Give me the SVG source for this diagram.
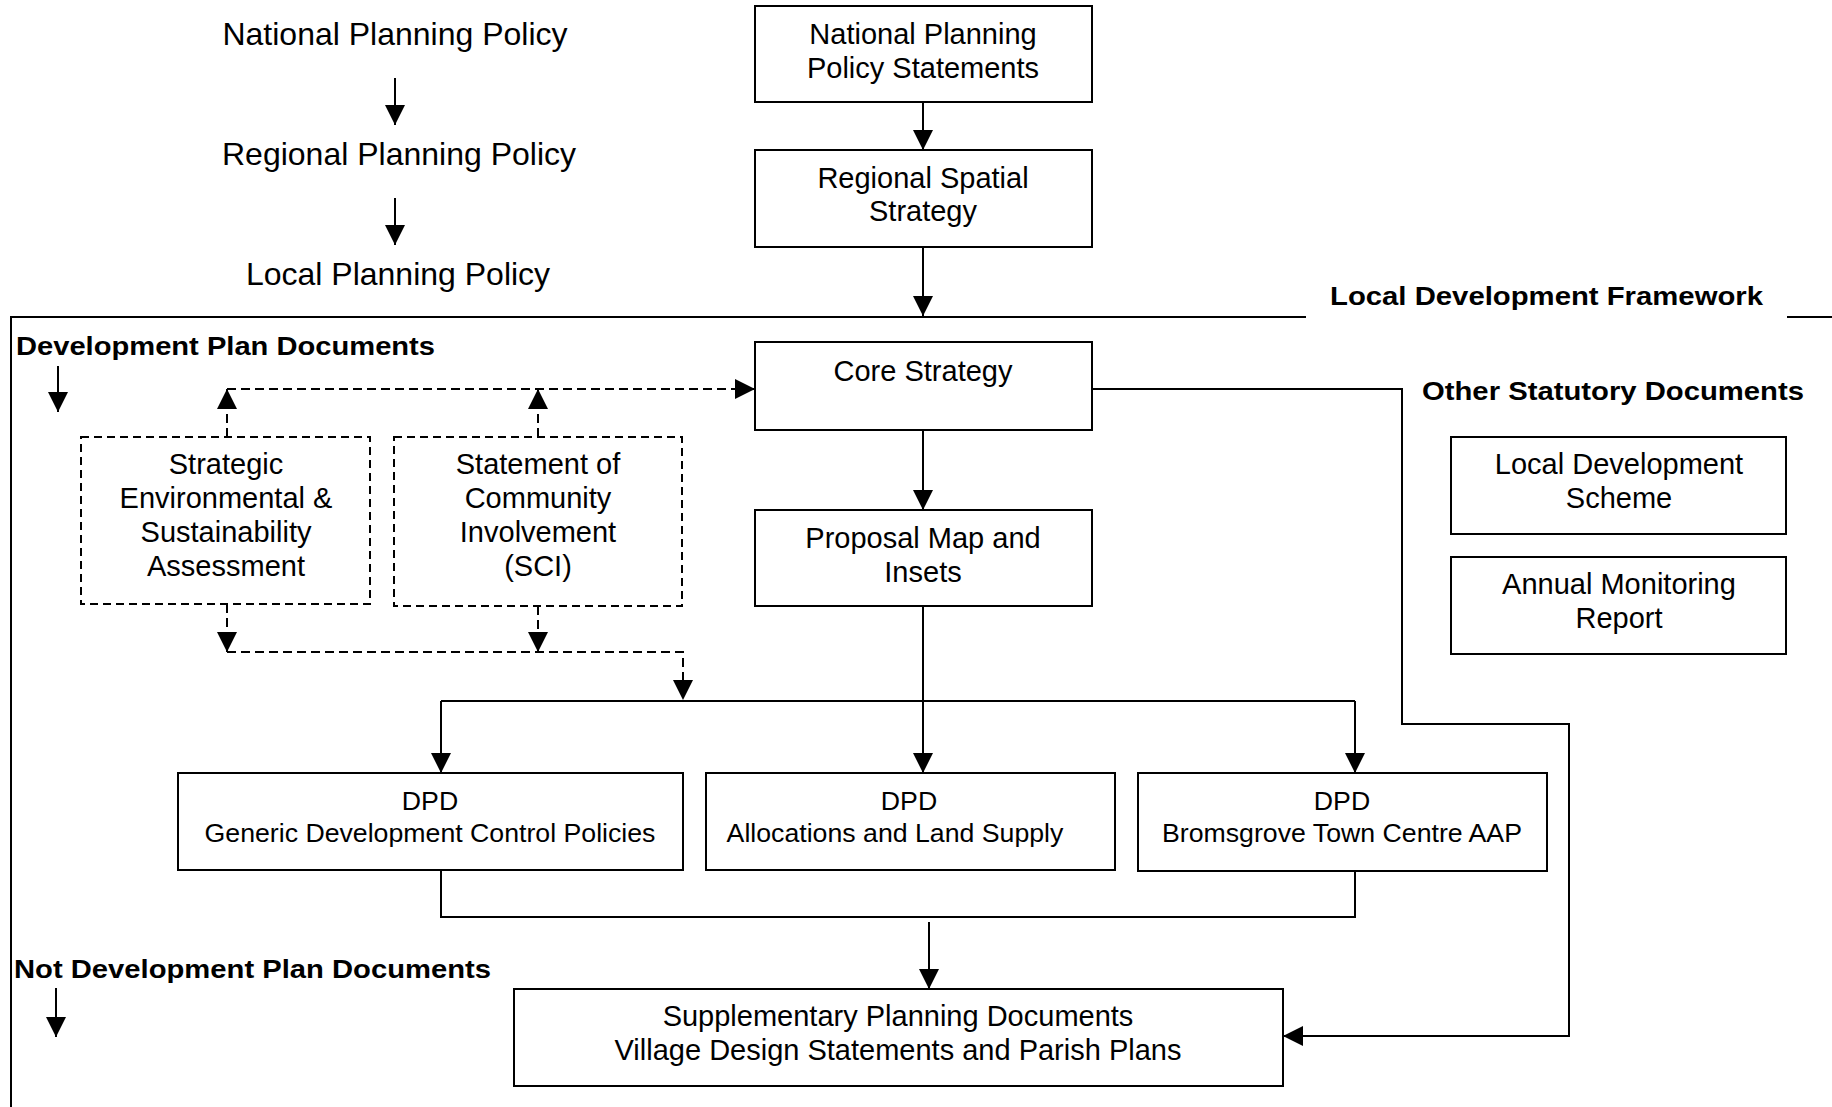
<svg xmlns="http://www.w3.org/2000/svg" width="1832" height="1107" viewBox="0 0 1832 1107">
<style>
  text { font-family: "Liberation Sans", Arial, sans-serif; fill: #000; }
  .lbl { font-size: 32px; text-anchor: middle; }
  .bx { font-size: 29px; text-anchor: middle; }
  .dpd { font-size: 26.7px; text-anchor: middle; }
  .hd { font-size: 26px; font-weight: bold; }
  .box { fill: #fff; stroke: #000; stroke-width: 2; }
  .dbox { fill: #fff; stroke: #000; stroke-width: 2; stroke-dasharray: 8 5; }
  .ln { fill: none; stroke: #000; stroke-width: 2; }
  .dl { fill: none; stroke: #000; stroke-width: 2; stroke-dasharray: 9 5; }
</style>
<defs>
  <marker id="ah" markerUnits="userSpaceOnUse" markerWidth="20" markerHeight="20" refX="20" refY="10" orient="auto" viewBox="0 0 20 20">
    <path d="M0,0 L20,10 L0,20 z" fill="#000" stroke="none"/>
  </marker>
</defs>
<rect width="1832" height="1107" fill="#fff"/>

<g id="framework">
  <line class="ln" x1="11" y1="317" x2="1306" y2="317"/>
  <line class="ln" x1="1787" y1="317" x2="1832" y2="317"/>
  <line class="ln" x1="11" y1="316" x2="11" y2="1107"/>
  <text class="hd" x="1330" y="305" textLength="433" lengthAdjust="spacingAndGlyphs">Local Development Framework</text>
</g>

<g id="policy-levels">
  <text class="lbl" x="395" y="45">National Planning Policy</text>
  <text class="lbl" x="399" y="165">Regional Planning Policy</text>
  <text class="lbl" x="398" y="285">Local Planning Policy</text>
</g>

<g id="headings">
  <text class="hd" x="16" y="355" textLength="419" lengthAdjust="spacingAndGlyphs">Development Plan Documents</text>
  <text class="hd" x="14" y="978" textLength="477" lengthAdjust="spacingAndGlyphs">Not Development Plan Documents</text>
  <text class="hd" x="1422" y="400" textLength="382" lengthAdjust="spacingAndGlyphs">Other Statutory Documents</text>
</g>

<g id="connectors">
  <line class="ln" x1="395" y1="78" x2="395" y2="125" marker-end="url(#ah)"/>
  <line class="ln" x1="395" y1="198" x2="395" y2="245" marker-end="url(#ah)"/>
  <line class="ln" x1="58" y1="366" x2="58" y2="412" marker-end="url(#ah)"/>
  <line class="ln" x1="56" y1="988" x2="56" y2="1037" marker-end="url(#ah)"/>

  <line class="ln" x1="923" y1="102" x2="923" y2="150" marker-end="url(#ah)"/>
  <line class="ln" x1="923" y1="247" x2="923" y2="316" marker-end="url(#ah)"/>
  <line class="ln" x1="923" y1="430" x2="923" y2="510" marker-end="url(#ah)"/>
  <line class="ln" x1="923" y1="606" x2="923" y2="773" marker-end="url(#ah)"/>
  <line class="ln" x1="441" y1="701" x2="1355" y2="701"/>
  <line class="ln" x1="441" y1="701" x2="441" y2="773" marker-end="url(#ah)"/>
  <line class="ln" x1="1355" y1="701" x2="1355" y2="773" marker-end="url(#ah)"/>

  <polyline class="ln" points="441,870 441,917 1355,917 1355,871"/>
  <line class="ln" x1="929" y1="922" x2="929" y2="989" marker-end="url(#ah)"/>

  <polyline class="ln" points="1091,389 1402,389 1402,724 1569,724 1569,1036 1283,1036" marker-end="url(#ah)"/>

  <line class="dl" x1="227" y1="437" x2="227" y2="389" marker-end="url(#ah)"/>
  <line class="dl" x1="538" y1="437" x2="538" y2="389" marker-end="url(#ah)"/>
  <line class="dl" x1="227" y1="389" x2="755" y2="389" marker-end="url(#ah)"/>

  <line class="dl" x1="227" y1="604" x2="227" y2="652" marker-end="url(#ah)"/>
  <line class="dl" x1="538" y1="606" x2="538" y2="652" marker-end="url(#ah)"/>
  <polyline class="dl" points="227,652 683,652 683,700" marker-end="url(#ah)"/>
</g>

<g id="npps">
  <rect class="box" x="755" y="6" width="337" height="96"/>
  <text class="bx" x="923" y="44">National Planning</text>
  <text class="bx" x="923" y="78">Policy Statements</text>
</g>
<g id="rss">
  <rect class="box" x="755" y="150" width="337" height="97"/>
  <text class="bx" x="923" y="188">Regional Spatial</text>
  <text class="bx" x="923" y="221">Strategy</text>
</g>
<g id="core-strategy">
  <rect class="box" x="755" y="342" width="337" height="88"/>
  <text class="bx" x="923" y="381">Core Strategy</text>
</g>
<g id="proposal-map">
  <rect class="box" x="755" y="510" width="337" height="96"/>
  <text class="bx" x="923" y="548">Proposal Map and</text>
  <text class="bx" x="923" y="582">Insets</text>
</g>
<g id="sea">
  <rect class="dbox" x="81" y="437" width="289" height="167"/>
  <text class="bx" x="226" y="474">Strategic</text>
  <text class="bx" x="226" y="508">Environmental &amp;</text>
  <text class="bx" x="226" y="542">Sustainability</text>
  <text class="bx" x="226" y="576">Assessment</text>
</g>
<g id="sci">
  <rect class="dbox" x="394" y="437" width="288" height="169"/>
  <text class="bx" x="538" y="474">Statement of</text>
  <text class="bx" x="538" y="508">Community</text>
  <text class="bx" x="538" y="542">Involvement</text>
  <text class="bx" x="538" y="576">(SCI)</text>
</g>
<g id="lds">
  <rect class="box" x="1451" y="437" width="335" height="97"/>
  <text class="bx" x="1619" y="474">Local Development</text>
  <text class="bx" x="1619" y="508">Scheme</text>
</g>
<g id="amr">
  <rect class="box" x="1451" y="557" width="335" height="97"/>
  <text class="bx" x="1619" y="594">Annual Monitoring</text>
  <text class="bx" x="1619" y="628">Report</text>
</g>
<g id="dpd-generic">
  <rect class="box" x="178" y="773" width="505" height="97"/>
  <text class="dpd" x="430" y="810">DPD</text>
  <text class="dpd" x="430" y="842">Generic Development Control Policies</text>
</g>
<g id="dpd-allocations">
  <rect class="box" x="706" y="773" width="409" height="97"/>
  <text class="dpd" x="909" y="810">DPD</text>
  <text class="dpd" x="895" y="842">Allocations and Land Supply</text>
</g>
<g id="dpd-bromsgrove">
  <rect class="box" x="1138" y="773" width="409" height="98"/>
  <text class="dpd" x="1342" y="810">DPD</text>
  <text class="dpd" x="1342" y="842">Bromsgrove Town Centre AAP</text>
</g>
<g id="spd">
  <rect class="box" x="514" y="989" width="769" height="97"/>
  <text class="bx" x="898" y="1026">Supplementary Planning Documents</text>
  <text class="bx" x="898" y="1060">Village Design Statements and Parish Plans</text>
</g>
</svg>
